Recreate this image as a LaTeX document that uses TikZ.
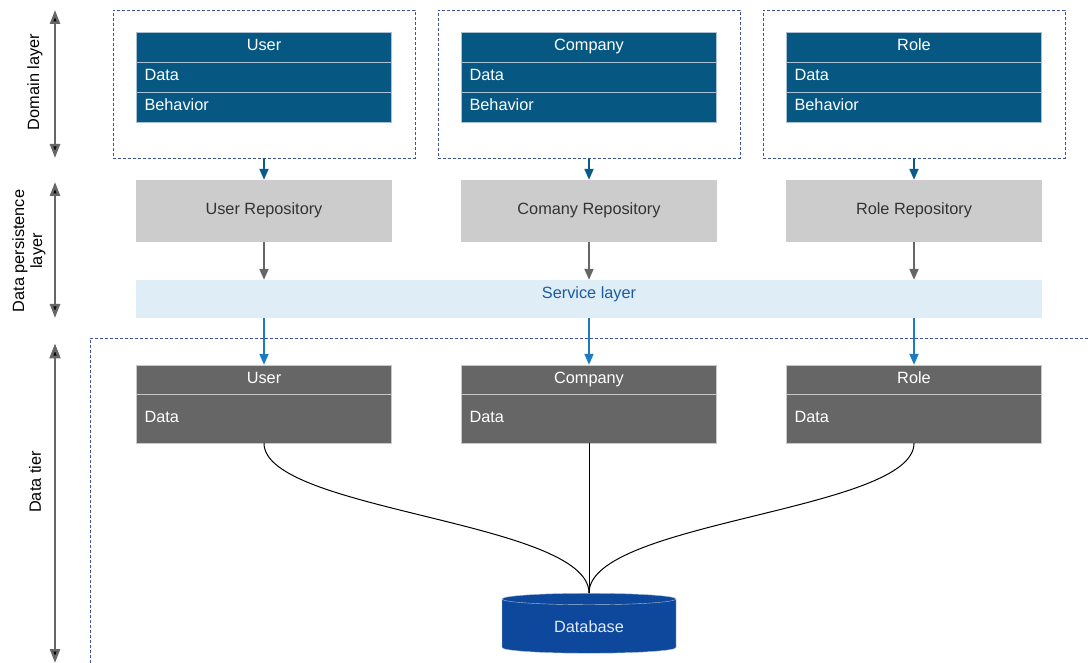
\documentclass[tikz,border=0pt]{standalone}
\usepackage{fontspec}
\setmainfont{Liberation Sans}
\usepackage{tikz}
\usetikzlibrary{arrows.meta}
\usetikzlibrary{positioning,calc}
\usetikzlibrary{shapes.geometric}
\definecolor{domblue}{RGB}{6,88,131}
\definecolor{rowline}{RGB}{170,192,212}
\definecolor{repogray}{RGB}{204,204,204}
\definecolor{servfill}{RGB}{223,237,247}
\definecolor{servtext}{RGB}{28,92,160}
\definecolor{tiergray}{RGB}{102,102,102}
\definecolor{tierline}{RGB}{200,200,200}
\definecolor{dbblue}{RGB}{14,72,156}
\definecolor{framedash}{RGB}{62,82,160}
\definecolor{arrowblue}{RGB}{10,90,140}
\definecolor{arrowlight}{RGB}{26,124,193}
\tikzset{
    domhead/.style={
           rectangle,
           fill=domblue, draw=rowline,
           text=white,
           minimum height=30pt,
           text width=239pt,
           text height=12pt, text depth=4pt,
           inner xsep=8pt, inner ysep=0pt,
           align=center,
           },
    domrow/.style={
           domhead,
           align=left,
           },
    frame/.style={
           rectangle,
           draw=framedash, densely dashed, thin,
           minimum width=302pt,
           minimum height=148pt,
           },
    repo/.style={
           rectangle,
           fill=repogray,
           text=black!80,
           text height=12pt, text depth=4pt,
           minimum width=256pt,
           minimum height=62pt,
           },
    tierhead/.style={
           domhead,
           fill=tiergray, draw=tierline,
           minimum height=29pt,
           },
    tierrow/.style={
           tierhead,
           align=left,
           minimum height=49pt,
           },
}

\begin{document}
\begin{tikzpicture}
[
x=1pt, y=-1pt,
>={Triangle[length=11pt,width=9pt]},
font=\fontsize{16.3}{19}\selectfont
]
\useasboundingbox (0,0) rectangle (1088,663);

 % DOMAIN LAYER
 \node[domhead] (USER) at (264,47) {User};
 \node[domrow, below of=USER, node distance=30pt] (USERDATA) {Data};
 \node[domrow, below of=USERDATA, node distance=30pt] (USERBEH) {Behavior};

 \node[domhead] (COMPANY) at (589,47) {Company};
 \node[domrow, below of=COMPANY, node distance=30pt] (COMPANYDATA) {Data};
 \node[domrow, below of=COMPANYDATA, node distance=30pt] (COMPANYBEH) {Behavior};

 \node[domhead] (ROLE) at (914,47) {Role};
 \node[domrow, below of=ROLE, node distance=30pt] (ROLEDATA) {Data};
 \node[domrow, below of=ROLEDATA, node distance=30pt] (ROLEBEH) {Behavior};

 \node[frame] (USERFRAME) at (264,84) {};
 \node[frame] (COMPANYFRAME) at (589,84) {};
 \node[frame] (ROLEFRAME) at (914,84) {};

 % DATA PERSISTENCE LAYER
 \node[repo, below of=USERBEH, node distance=104pt] (USERREPO) {User Repository};
 \node[repo, below of=COMPANYBEH, node distance=104pt] (COMPANYREPO) {Comany Repository};
 \node[repo, below of=ROLEBEH, node distance=104pt] (ROLEREPO) {Role Repository};

 \node[rectangle, fill=servfill, text=servtext,
 text height=12pt, text depth=12pt,
 minimum width=906pt, minimum height=38pt] (SERVICE) at (589,299) {Service layer};

 % DATA TIER
 \draw[framedash, densely dashed, thin] (1088,338) -- (90,338) -- (90,663);

 \node[tierhead] (DBUSER) at (264,379.5) {User};
 \node[tierrow, below of=DBUSER, node distance=39pt] (DBUSERDATA) {Data};

 \node[tierhead] (DBCOMPANY) at (589,379.5) {Company};
 \node[tierrow, below of=DBCOMPANY, node distance=39pt] (DBCOMPANYDATA) {Data};

 \node[tierhead] (DBROLE) at (914,379.5) {Role};
 \node[tierrow, below of=DBROLE, node distance=39pt] (DBROLEDATA) {Data};

 \node[cylinder, shape border rotate=90, aspect=0.15,
 fill=dbblue, draw=rowline, thin, text={rgb,255:red,222;green,234;blue,248},
 minimum width=174pt, minimum height=60pt] (DATABASE) at (589,627) {Database};

 % LEFT SIDE LAYERS
 \coordinate (DOMTOP) at (55,10);
 \coordinate (DOMBOT) at (55,158);
 \coordinate (PERTOP) at (55,182);
 \coordinate (PERBOT) at (55,318);
 \coordinate (TIERTOP) at (55,344);
 \coordinate (TIERBOT) at (55,663);

 \node[rotate=90] (DOMLABEL) at (35,82) {Domain layer};
 \node[rotate=90, align=center, font=\fontsize{16.3}{18}\selectfont] (PERLABEL) at (29,251) {Data persistence\\layer};
 \node[rotate=90] (TIERLABEL) at (35,482) {Data tier};

 \path[{Triangle[length=14pt,width=10pt]}-{Triangle[length=14pt,width=10pt]}, draw=tiergray, line width=2.5pt]
  (DOMTOP) edge (DOMBOT)
  (PERTOP) edge (PERBOT)
  (TIERTOP) edge (TIERBOT)
 ;

 % draw the paths between the layers
 \path[->, line width=2pt]
  (USERFRAME.south) edge[arrowblue] (USERREPO.north)
  (COMPANYFRAME.south) edge[arrowblue] (COMPANYREPO.north)
  (ROLEFRAME.south) edge[arrowblue] (ROLEREPO.north)
  (USERREPO.south) edge[tiergray] (USERREPO.south |- SERVICE.north)
  (COMPANYREPO.south) edge[tiergray] (COMPANYREPO.south |- SERVICE.north)
  (ROLEREPO.south) edge[tiergray] (ROLEREPO.south |- SERVICE.north)
  (DBUSER.north |- SERVICE.south) edge[arrowlight] (DBUSER.north)
  (DBCOMPANY.north |- SERVICE.south) edge[arrowlight] (DBCOMPANY.north)
  (DBROLE.north |- SERVICE.south) edge[arrowlight] (DBROLE.north)
 ;

 \draw[black, line width=1pt]
  (DBUSERDATA.south) .. controls ($(DBUSERDATA.south)+(0,68)$) and ($(DATABASE.north)+(0,-72)$) .. (DATABASE.north);
 \draw[black, line width=1pt]
  (DBROLEDATA.south) .. controls ($(DBROLEDATA.south)+(0,68)$) and ($(DATABASE.north)+(0,-72)$) .. (DATABASE.north);
 \draw[black, line width=1pt] (DBCOMPANYDATA.south) -- (DATABASE.north);
\end{tikzpicture}
\end{document}
